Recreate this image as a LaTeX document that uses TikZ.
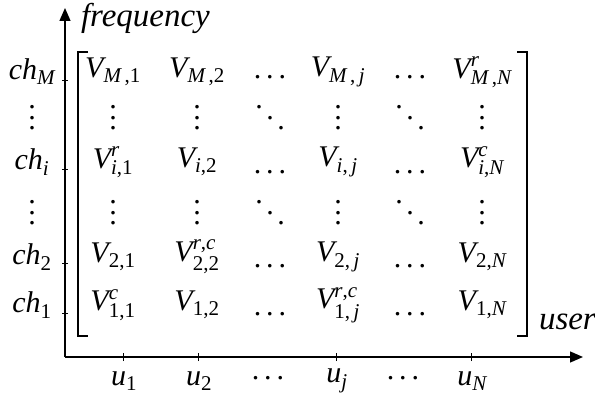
\documentclass[tikz,border=0pt]{standalone}
\usepackage{amsmath}
\usepackage{fontspec}
\setmainfont{Liberation Serif}
\usetikzlibrary{arrows.meta}
\newcommand{\ti}[1]{\text{\itshape #1}}
\newcommand{\tu}[1]{\text{#1}}
\newcommand{\cm}{\text{,}}
\newcommand{\hdts}{\mbox{.\kern5pt.\kern5pt.}}
\newcommand{\vdts}{\vbox{\baselineskip=10.5pt\lineskiplimit=-100pt\hbox{.}\hbox{.}\hbox{.}}}
\newcommand{\ddts}{\mbox{\raisebox{21pt}{.}\kern3.5pt\raisebox{10.5pt}{.}\kern3.5pt.}}
\begin{document}
\begin{tikzpicture}[x=1pt,y=-1pt,
  every node/.style={inner sep=0pt,outer sep=0pt},
  ent/.style={font=\fontsize{30}{34}\selectfont},
  lab/.style={font=\fontsize{33}{36}\selectfont\itshape},
  axis/.style={line width=1.3pt},
  tick/.style={line width=0.8pt},
  brk/.style={line width=1.4pt}]
\useasboundingbox (0,0) rectangle (595,401);
% axes
\coordinate (O) at (65,357);
\coordinate (Ytip) at (65,8);
\coordinate (Xtip) at (583,357);
\draw[axis,-{Triangle[length=13pt,width=11pt]}] (O) -- (Ytip);
\draw[axis,-{Triangle[length=13pt,width=11pt]}] (O) -- (Xtip);
% y ticks
\foreach \n/\y in {M/80,i/169,two/263,one/313}{
  \coordinate (ty\n) at (65,\y);
  \draw[tick] ([xshift=-3pt]ty\n) -- ([xshift=3pt]ty\n);
}
% x ticks
\foreach \n/\x in {one/123,two/198,j/336,N/471}{
  \coordinate (tx\n) at (\x,357);
  \draw[tick] ([yshift=-4pt]tx\n) -- ([yshift=4pt]tx\n);
}
% brackets
\coordinate (bl1) at (88,52);
\coordinate (bl2) at (78,52);
\coordinate (bl3) at (78,336);
\coordinate (bl4) at (88,336);
\draw[brk] (bl1) -- (bl2) -- (bl3) -- (bl4);
\coordinate (br1) at (517,52);
\coordinate (br2) at (527,52);
\coordinate (br3) at (527,336);
\coordinate (br4) at (517,336);
\draw[brk] (br1) -- (br2) -- (br3) -- (br4);
% axis labels
\node[lab,anchor=west] (freq) at (81,18) {frequency};
\node[lab,anchor=west] (user) at (539,322) {user};
% y labels
\node[ent] (chM) at (32,72) {$\ti{ch}_{\ti{M}}$};
\node[ent] (cvd1) at (32,118) {\vdts};
\node[ent] (chi) at (32,162) {$\ti{ch}_{\ti{i}}$};
\node[ent] (cvd2) at (32,213) {\vdts};
\node[ent] (ch2) at (32,257) {$\ti{ch}_{\tu{2}}$};
\node[ent] (ch1) at (32,305) {$\ti{ch}_{\tu{1}}$};
% x labels
\node[ent] (u1) at (124,381) {$\ti{u}_{\tu{1}}$};
\node[ent] (u2) at (199,381) {$\ti{u}_{\tu{2}}$};
\node[ent] (ud1) at (268,378) {\hdts};
\node[ent] (uj) at (337,381) {$\ti{u}_{\ti{j}}$};
\node[ent] (ud2) at (403,378) {\hdts};
\node[ent] (uN) at (472,381) {$\ti{u}_{\ti{N}}$};
% matrix entries
\def\ca{113}\def\cb{197}\def\cc{270}\def\cd{338}\def\ce{410}\def\cf{482}
\node[ent] (m11) at (\ca,72) {$\ti{V}_{\ti{M}\,\cm\tu{1}}$};
\node[ent] (m12) at (\cb,72) {$\ti{V}_{\ti{M}\,\cm\tu{2}}$};
\node[ent] (m13) at (\cc,77) {\hdts};
\node[ent] (m14) at (\cd,72) {$\ti{V}_{\ti{M}\,\cm\,\ti{j}}$};
\node[ent] (m15) at (\ce,77) {\hdts};
\node[ent] (m16) at (\cf,72) {$\ti{V}^{\ti{r}}_{\ti{M}\,\cm\ti{N}}$};
\node[ent] (m21) at (\ca,118) {\vdts};
\node[ent] (m22) at (\cb,118) {\vdts};
\node[ent] (m23) at (\cc,118) {\ddts};
\node[ent] (m24) at (\cd,118) {\vdts};
\node[ent] (m25) at (\ce,118) {\ddts};
\node[ent] (m26) at (\cf,118) {\vdts};
\node[ent] (m31) at (\ca,162) {$\ti{V}^{\ti{r}}_{\ti{i}\cm\tu{1}}$};
\node[ent] (m32) at (\cb,162) {$\ti{V}_{\ti{i}\cm\tu{2}}$};
\node[ent] (m33) at (\cc,172) {\hdts};
\node[ent] (m34) at (\cd,162) {$\ti{V}_{\ti{i}\cm\,\ti{j}}$};
\node[ent] (m35) at (\ce,172) {\hdts};
\node[ent] (m36) at (\cf,162) {$\ti{V}^{\ti{c}}_{\ti{i}\cm\ti{N}}$};
\node[ent] (m41) at (\ca,213) {\vdts};
\node[ent] (m42) at (\cb,213) {\vdts};
\node[ent] (m43) at (\cc,213) {\ddts};
\node[ent] (m44) at (\cd,213) {\vdts};
\node[ent] (m45) at (\ce,213) {\ddts};
\node[ent] (m46) at (\cf,213) {\vdts};
\node[ent] (m51) at (\ca,257) {$\ti{V}_{\tu{2}\cm\tu{1}}$};
\node[ent] (m52) at (\cb,257) {$\ti{V}^{\ti{r}\cm\ti{c}}_{\tu{2}\cm\tu{2}}$};
\node[ent] (m53) at (\cc,266) {\hdts};
\node[ent] (m54) at (\cd,257) {$\ti{V}_{\tu{2}\cm\,\ti{j}}$};
\node[ent] (m55) at (\ce,266) {\hdts};
\node[ent] (m56) at (\cf,257) {$\ti{V}_{\tu{2}\cm\ti{N}}$};
\node[ent] (m61) at (\ca,305) {$\ti{V}^{\ti{c}}_{\tu{1}\cm\tu{1}}$};
\node[ent] (m62) at (\cb,305) {$\ti{V}_{\tu{1}\cm\tu{2}}$};
\node[ent] (m63) at (\cc,314) {\hdts};
\node[ent] (m64) at (\cd,305) {$\ti{V}^{\ti{r}\cm\ti{c}}_{\tu{1}\cm\,\ti{j}}$};
\node[ent] (m65) at (\ce,314) {\hdts};
\node[ent] (m66) at (\cf,305) {$\ti{V}_{\tu{1}\cm\ti{N}}$};
\end{tikzpicture}
\end{document}
